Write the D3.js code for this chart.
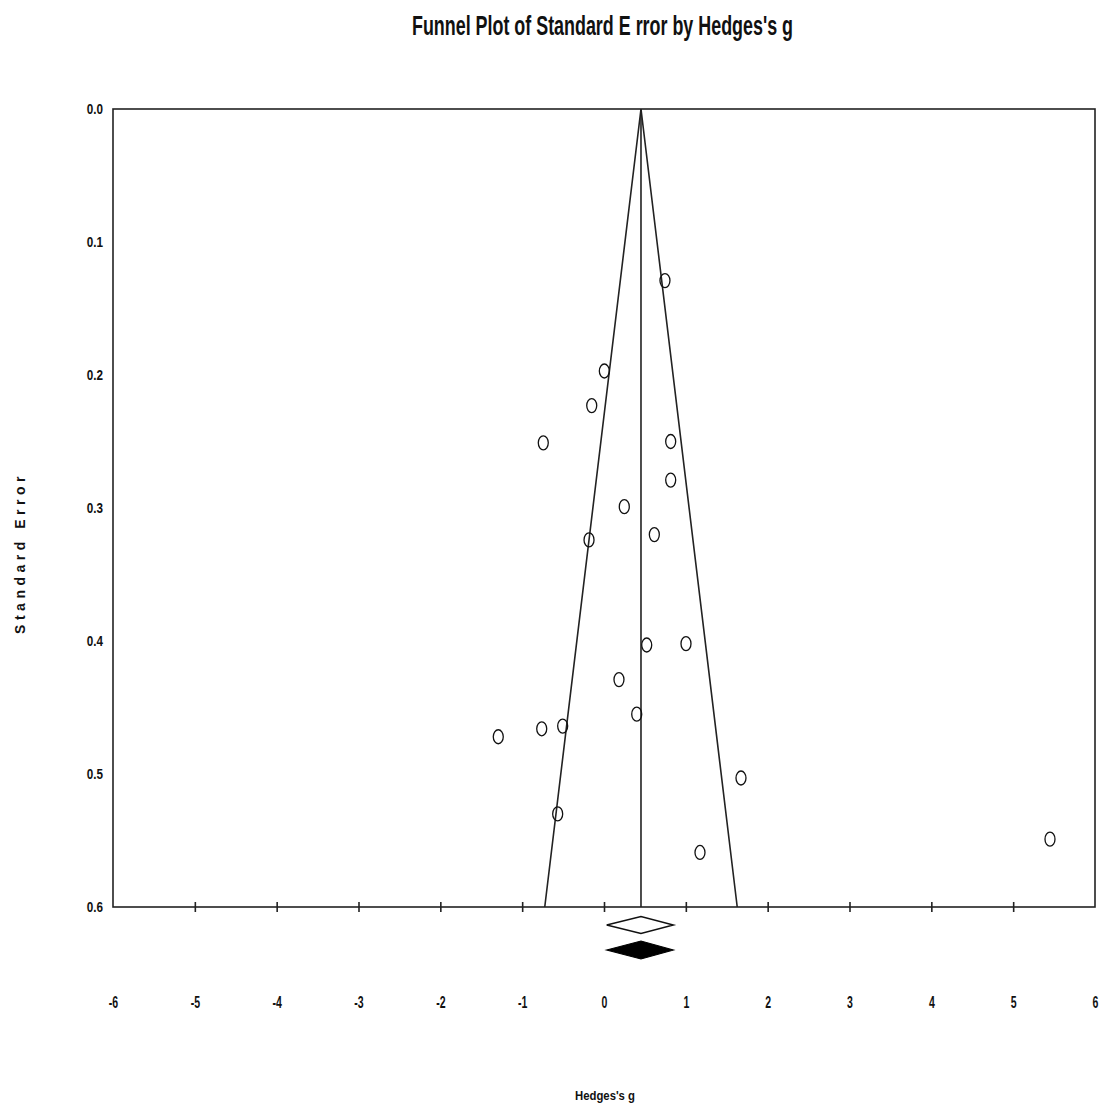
<!DOCTYPE html>
<html>
<head>
<meta charset="utf-8">
<script src="https://cdn.jsdelivr.net/npm/d3@7"></script>
<style>
  body { margin: 0; background: #fff; }
  text { font-family: "Liberation Sans Narrow", "Liberation Sans", sans-serif; font-weight: bold; fill: #111; }
</style>
</head>
<body>
<div id="chart"></div>
<script>
// study effects (Hedges's g) and standard errors
const hedgesG = [0.745, 0.004, -0.150, -0.742, 0.815, 0.815, 0.248, -0.183, 0.615, 0.522,
  1.002, 0.183, 0.400, -1.292, -0.761, -0.505, 1.674, -0.566, 1.173, 5.450];
const stdErr = [0.129, 0.197, 0.223, 0.251, 0.250, 0.279, 0.299, 0.324, 0.320, 0.403,
  0.402, 0.429, 0.455, 0.472, 0.466, 0.464, 0.503, 0.530, 0.559, 0.549];

const pooled = 0.452;          // combined effect (funnel centre)
const ciLow = 0.033;           // diamond extent
const ciHigh = 0.847;
const xTicks = [-6, -5, -4, -3, -2, -1, 0, 1, 2, 3, 4, 5, 6];
const yTicks = [0.0, 0.1, 0.2, 0.3, 0.4, 0.5, 0.6];

const width = 1111;
const height = 1112;
const margin = { top: 109, right: 16, bottom: 205, left: 113 };

const svg = d3
  .select("#chart")
  .append("svg")
  .attr("width", width)
  .attr("height", height)
  .attr("viewBox", [0, 0, width, height]);

const x = d3.scaleLinear([-6, 6], [margin.left, width - margin.right]);
const y = d3.scaleLinear([0, 0.6], [margin.top, height - margin.bottom]);

// title
svg
  .append("text")
  .attr("x", 412)
  .attr("y", 35)
  .attr("font-size", 28)
  .attr("textLength", 381)
  .attr("lengthAdjust", "spacingAndGlyphs")
  .text("Funnel Plot of Standard E rror by Hedges's g");

// frame
svg
  .append("rect")
  .attr("x", x(-6))
  .attr("y", y(0))
  .attr("width", x(6) - x(-6))
  .attr("height", y(0.6) - y(0))
  .attr("fill", "none")
  .attr("stroke", "#222")
  .attr("stroke-width", 1.6);

// x-axis: ticks crossing the bottom line, labels further below
svg
  .append("g")
  .attr("transform", `translate(0,${y(0.6) - 5})`)
  .call(d3.axisBottom(x).tickValues(xTicks).tickSize(10).tickPadding(84).tickFormat((d) => String(d)))
  .call((g) => g.select(".domain").remove())
  .call((g) => g.selectAll(".tick line").attr("stroke", "#222").attr("stroke-width", 1.6)
    .filter((d) => d === -6 || d === 6).remove())
  .call((g) => g.selectAll(".tick text").attr("font-size", 17).attr("font-family", null)
    .attr("transform", "scale(0.62,1)"));

// y-axis labels only
svg
  .append("g")
  .attr("transform", `translate(${margin.left},0)`)
  .call(d3.axisLeft(y).tickValues(yTicks).tickSize(0).tickPadding(10).tickFormat(d3.format(".1f")))
  .call((g) => g.select(".domain").remove())
  .call((g) => g.selectAll(".tick text").attr("font-size", 15).attr("font-family", null)
    .attr("x", 0).attr("dy", "0.32em").attr("transform", "translate(-10,0) scale(0.78,1)"));

// funnel lines (95% pseudo-limits) and centre line
const seMax = 0.6;
const funnel = d3.line().x((d) => x(d[0])).y((d) => y(d[1]));
svg
  .append("path")
  .attr("fill", "none")
  .attr("stroke", "#222")
  .attr("stroke-width", 1.6)
  .attr("d", funnel([[pooled - 1.96 * seMax, seMax], [pooled, 0], [pooled + 1.96 * seMax, seMax]]));
svg
  .append("path")
  .attr("fill", "none")
  .attr("stroke", "#222")
  .attr("stroke-width", 1.6)
  .attr("d", funnel([[pooled, 0], [pooled, seMax]]));

// studies
svg
  .append("g")
  .selectAll("ellipse")
  .data(hedgesG.map((g, i) => ({ g, se: stdErr[i] })))
  .join("ellipse")
  .attr("cx", (d) => x(d.g))
  .attr("cy", (d) => y(d.se))
  .attr("rx", 5)
  .attr("ry", 7)
  .attr("fill", "none")
  .attr("stroke", "#111")
  .attr("stroke-width", 1.3);

// summary diamonds (observed open, filled below)
const diamond = (cy, h) =>
  `M${x(ciLow)},${cy}L${x(pooled)},${cy - h}L${x(ciHigh)},${cy}L${x(pooled)},${cy + h}Z`;
svg.append("path").attr("d", diamond(925, 8.5)).attr("fill", "#fff").attr("stroke", "#111").attr("stroke-width", 1.5);
svg.append("path").attr("d", diamond(950, 9)).attr("fill", "#000").attr("stroke", "#000").attr("stroke-width", 1.2);

// axis titles
svg
  .append("text")
  .attr("transform", "translate(25,553) rotate(-90)")
  .attr("text-anchor", "middle")
  .attr("font-size", 14)
  .attr("font-family", "Liberation Sans, sans-serif")
  .attr("letter-spacing", 4.5)
  .text("Standard Error");

svg
  .append("text")
  .attr("x", 605)
  .attr("y", 1100)
  .attr("text-anchor", "middle")
  .attr("font-size", 13)
  .attr("textLength", 60)
  .attr("lengthAdjust", "spacingAndGlyphs")
  .text("Hedges's g");
</script>
</body>
</html>
